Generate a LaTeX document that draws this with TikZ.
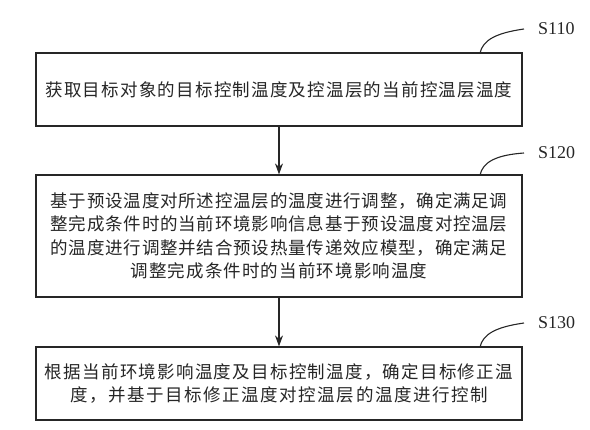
\documentclass[tikz,border=0pt]{standalone}
\usepackage{fontspec}
\setmainfont{Liberation Serif}
\newfontfamily\cjk{Noto Sans CJK SC}
\usetikzlibrary{arrows.meta}
\def\jline#1#2{\makebox[#1][s]{\jfirst#2\relax}}
\def\jfirst#1{#1\jnext}
\def\jnext#1{\ifx#1\relax\else\hfil#1\expandafter\jnext\fi}
\tikzset{
  stepbox/.style={draw=black!85, line width=1.2pt, rectangle, inner sep=0pt,
    minimum width=486pt, align=center, text=black!85,
    font=\cjk\fontsize{17.5}{23.5}\selectfont},
  steplabel/.style={anchor=west, inner sep=0pt, text=black!85,
    font=\fontsize{18}{18}\selectfont},
  flow/.style={draw=black!85, line width=1.2pt, -{Stealth[length=11pt,width=8pt]}},
  tick/.style={draw=black!85, line width=1.1pt}
}
\begin{document}
\begin{tikzpicture}[x=1pt,y=-1pt]
\useasboundingbox (0,0) rectangle (590,430);
\node[stepbox, minimum height=73pt] (b1) at (279,89.5)
  {\jline{467pt}{获取目标对象的目标控制温度及控温层的当前控温层温度}};
\node[stepbox, minimum height=122pt] (b2) at (279,236)
  {\jline{457pt}{基于预设温度对所述控温层的温度进行调整，确定满足调}\\
   \jline{457pt}{整完成条件时的当前环境影响信息基于预设温度对控温层}\\
   \jline{457pt}{的温度进行调整并结合预设热量传递效应模型，确定满足}\\
   \jline{297pt}{调整完成条件时的当前环境影响温度}};
\node[stepbox, minimum height=73pt] (b3) at (279,383.5)
  {\jline{468pt}{根据当前环境影响温度及目标控制温度，确定目标修正温}\\
   \jline{418pt}{度，并基于目标修正温度对控温层的温度进行控制}};
\draw[flow] (b1.south) -- (b2.north);
\draw[flow] (b2.south) -- (b3.north);
\coordinate (c1) at (480,53);
\coordinate (c2) at (480,175);
\coordinate (c3) at (480,347);
\node[steplabel] (s1) at (538,29) {S110};
\node[steplabel] (s2) at (538,153) {S120};
\node[steplabel] (s3) at (538,323) {S130};
\draw[tick] (c1) .. controls (483,40) and (496,33) .. ([xshift=-14pt]s1.west);
\draw[tick] (c2) .. controls (483,162) and (496,155) .. ([xshift=-14pt]s2.west);
\draw[tick] (c3) .. controls (483,334) and (496,327) .. ([xshift=-14pt]s3.west);
\end{tikzpicture}
\end{document}
